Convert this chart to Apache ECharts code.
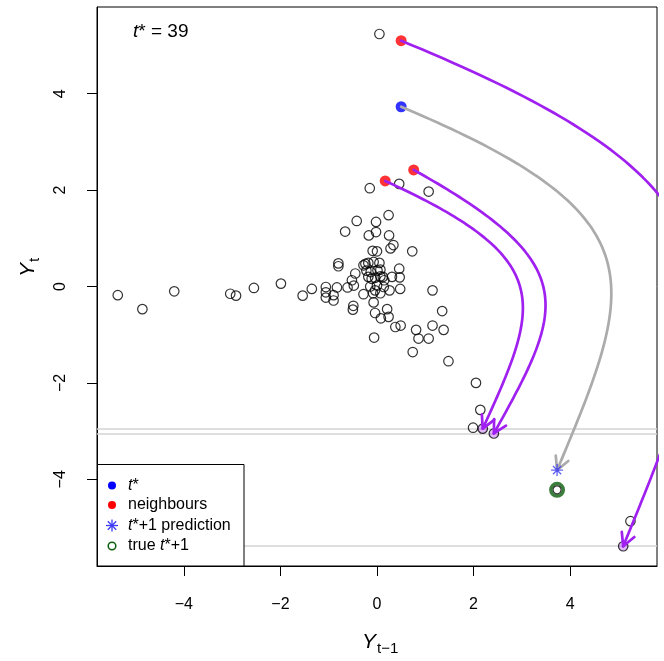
<!DOCTYPE html>
<html><head><meta charset="utf-8">
<script src="https://cdn.jsdelivr.net/npm/echarts@6/dist/echarts.min.js"></script>
<style>html,body{margin:0;padding:0;background:#fff}#c{width:664px;height:661px}</style>
</head><body><div id="c"></div><script>
// ---- data ----
const cloudX = [-5.37,-4.86,-4.20,-3.04,-2.92,-2.55,-1.99,-1.54,-1.35,-1.06,-1.06,-1.06,-0.90,-0.90,-0.83,-0.80,-0.80,-0.61,-0.52,-0.45,-0.48,-0.49,-0.50,-0.66,-0.42,-0.17,-0.02,-0.02,-0.09,0.00,-0.15,-0.28,-0.07,-0.04,0.08,-0.06,-0.28,-0.18,-0.07,0.05,-0.22,-0.13,0.01,-0.18,-0.04,0.07,-0.11,0.00,-0.08,0.07,-0.14,0.14,0.15,0.12,-0.24,-0.04,0.26,0.24,0.25,0.34,0.28,0.73,0.07,0.46,0.31,0.47,0.48,1.15,1.35,0.21,0.24,0.38,0.49,0.81,1.15,1.38,0.86,1.07,0.74,1.48,2.05,2.14,1.99,5.25,0.05,0.46,1.07];
const cloudY = [-0.18,-0.47,-0.10,-0.15,-0.19,-0.03,0.06,-0.19,-0.05,-0.01,-0.12,-0.23,-0.18,-0.29,-0.02,0.48,0.42,-0.02,0.13,0.27,0.02,-0.40,-0.48,1.14,1.36,1.06,1.34,1.13,0.74,0.73,2.04,-0.16,-0.33,-0.55,-0.66,-1.06,0.44,0.49,0.51,0.49,0.33,0.30,0.33,0.20,0.18,0.21,0.16,0.02,-0.14,-0.14,0.00,-0.01,0.13,0.20,0.47,-0.08,-0.08,1.48,1.06,0.86,0.79,0.73,0.35,0.37,0.20,0.19,-0.05,-0.08,-0.51,-0.47,-0.63,-0.84,-0.81,-0.90,-0.81,-0.90,-1.08,-1.08,-1.36,-1.55,-2.00,-2.56,-2.93,-4.87,5.24,2.13,1.97];
const neighbourX = [0.50, 0.17, 0.76];
const neighbourY = [5.10, 2.19, 2.42];
const successorX = [5.10, 2.19, 2.42];
const successorY = [-5.39, -2.95, -3.05];
const tStarX = [0.50];
const tStarY = [3.73];
const predX = [3.73];
const predY = [-3.81];
const trueX = [3.73];
const trueY = [-4.22];
const tickValues = [-4, -2, 0, 2, 4];
const tStarLabel = 39;

// ---- helpers ----
const FONT = '"Liberation Sans", Arial, Helvetica, sans-serif';
const zip = (xs, ys) => xs.map((x, i) => [x, ys[i]]);
const deg = Math.PI / 180;
function curvedArrow(S, E) {
  const dx = E[0] - S[0], dy = E[1] - S[1];
  const L = Math.hypot(dx, dy), phi = Math.atan2(dy, dx);
  const a1 = phi + 44 * deg, a2 = phi - 46 * deg;
  const C1 = [S[0] + 0.71 * L * Math.cos(a1), S[1] + 0.71 * L * Math.sin(a1)];
  const C2 = [E[0] - 0.52 * L * Math.cos(a2), E[1] - 0.52 * L * Math.sin(a2)];
  const pts = [];
  const n = 100;
  for (let i = 0; i <= n; i++) {
    const t = i / n, u = 1 - t;
    const b0 = u * u * u, b1 = 3 * u * u * t, b2 = 3 * u * t * t, b3 = t * t * t;
    pts.push([b0 * S[0] + b1 * C1[0] + b2 * C2[0] + b3 * E[0],
              b0 * S[1] + b1 * C1[1] + b2 * C2[1] + b3 * E[1]]);
  }
  const ang = Math.atan2(E[1] - C2[1], E[0] - C2[0]);
  const len = 0.3, da = 28 * deg;
  const head = [[E[0] - len * Math.cos(ang - da), E[1] - len * Math.sin(ang - da)], E,
                [E[0] - len * Math.cos(ang + da), E[1] - len * Math.sin(ang + da)]];
  return { pts, head };
}
const PURPLE = '#A020F0', GRAY = '#ABABAB';
const arrowSeries = [];
function addArrow(S, E, color) {
  const a = curvedArrow(S, E);
  const ls = { color, width: 2.7, cap: 'round', join: 'round' };
  arrowSeries.push({ type: 'line', data: a.pts, showSymbol: false, symbol: 'none', lineStyle: ls, z: 6, silent: true, clip: true, animation: false });
  arrowSeries.push({ type: 'line', data: a.head, showSymbol: false, symbol: 'none', lineStyle: ls, z: 6, silent: true, clip: true, animation: false });
}
neighbourX.forEach((x, i) => addArrow([x, neighbourY[i]], [successorX[i], successorY[i]], PURPLE));
addArrow([tStarX[0], tStarY[0]], [predX[0], predY[0]], GRAY);

const fmt = v => (v < 0 ? '\u2212' + Math.abs(v) : String(v));
const STAR = 'path://M0 5L10 5M5 0L5 10M1.6 1.6L8.4 8.4M8.4 1.6L1.6 8.4';
const ZT = 100;
const txt = (x, y, text, size, extra) => ({ type: 'text', x, y, z: ZT + 2,
  style: Object.assign({ text, fill: '#000', fontSize: size, fontFamily: FONT, align: 'left', verticalAlign: 'middle',
    textAlign: 'left', textVerticalAlign: 'middle',
    rich: { i: { fontStyle: 'italic', fontSize: size, fontFamily: FONT }, n: { fontSize: size, fontFamily: FONT } } }, extra || {}) });
const seg = (x1, y1, x2, y2) => ({ type: 'line', z: ZT + 1, shape: { x1, y1, x2, y2 }, style: { stroke: '#3A3AF5', lineWidth: 1.3 } });

const option = {
  animation: false,
  backgroundColor: '#fff',
  grid: { left: 97, right: 7, top: 7, bottom: 95, show: true, borderColor: '#000', borderWidth: 1, containLabel: false },
  xAxis: {
    type: 'value', min: -5.8, max: 5.8,
    axisLine: { show: true, onZero: false, lineStyle: { color: '#000', width: 1 } },
    axisTick: { show: true, length: 10, customValues: tickValues, lineStyle: { color: '#000' } },
    axisLabel: { customValues: tickValues, formatter: fmt, color: '#000', fontSize: 16, fontFamily: FONT, margin: 31 },
    splitLine: { show: false }
  },
  yAxis: {
    type: 'value', min: -5.8, max: 5.8,
    axisLine: { show: true, onZero: false, lineStyle: { color: '#000', width: 1 } },
    axisTick: { show: true, length: 10, customValues: tickValues, lineStyle: { color: '#000' } },
    axisLabel: { customValues: tickValues, formatter: fmt, rotate: 90, color: '#000', fontSize: 16, fontFamily: FONT, margin: 28 },
    splitLine: { show: false }
  },
  series: [
    { type: 'scatter', data: [], z: 1, silent: true,
      markLine: { silent: true, symbol: 'none', animation: false, z: 1, label: { show: false },
        lineStyle: { color: '#D3D3D3', width: 1.5, type: 'solid' },
        data: successorY.map(v => ({ yAxis: v })) } },
    { type: 'scatter', data: zip(cloudX, cloudY), symbol: 'circle', symbolSize: 9.5, z: 2,
      itemStyle: { color: 'rgba(0,0,0,0)', borderColor: '#000', borderWidth: 1.2 } },
    { type: 'scatter', data: zip(successorX, successorY), symbol: 'circle', symbolSize: 9.5, z: 3,
      itemStyle: { color: 'rgba(160,32,240,0.4)', borderColor: '#000', borderWidth: 1.2 } },
    { type: 'scatter', data: zip(neighbourX, neighbourY), symbol: 'circle', symbolSize: 11, z: 4,
      itemStyle: { color: '#FF0000' } },
    { type: 'scatter', data: zip(tStarX, tStarY), symbol: 'circle', symbolSize: 11, z: 4,
      itemStyle: { color: '#0000FF' } },
    ...arrowSeries,
    { type: 'scatter', data: zip(trueX, trueY), symbol: 'circle', symbolSize: 12.5, z: 7,
      itemStyle: { color: 'rgba(0,0,0,0)', borderColor: '#0B5E0B', borderWidth: 3.5 } },
    { type: 'scatter', data: zip(trueX, trueY), symbol: 'circle', symbolSize: 8, z: 8,
      itemStyle: { color: 'rgba(0,0,0,0)', borderColor: '#000', borderWidth: 1.2 } },
    { type: 'scatter', data: zip(predX, predY), symbol: STAR, symbolSize: 12, z: 8,
      itemStyle: { color: 'rgba(0,0,0,0)', borderColor: '#3A3AF5', borderWidth: 1.3 } }
  ],
  graphic: { elements: [
    txt(133, 32, '{i|t}{n|*} = ' + tStarLabel, 19),
    txt(362, 642, 'Y', 21, { fontStyle: 'italic' }),
    txt(377, 649, 't\u22121', 15),
    { type: 'group', x: 28, y: 277, rotation: Math.PI / 2, z: ZT,
      children: [ txt(0, 0, 'Y', 21, { fontStyle: 'italic' }), txt(15, 7, 't', 15) ] },
    { type: 'rect', z: ZT, shape: { x: 97.5, y: 464.5, width: 146.5, height: 101.5 }, style: { fill: '#fff', stroke: '#000', lineWidth: 1 } },
    { type: 'circle', z: ZT + 1, shape: { cx: 112, cy: 485.5, r: 4 }, style: { fill: '#0000FF' } },
    { type: 'circle', z: ZT + 1, shape: { cx: 112, cy: 505, r: 4 }, style: { fill: '#FF0000' } },
    seg(106, 525.5, 118, 525.5), seg(112, 519.5, 112, 531.5), seg(107.8, 521.3, 116.2, 529.7), seg(116.2, 521.3, 107.8, 529.7),
    { type: 'circle', z: ZT + 1, shape: { cx: 112, cy: 546, r: 3.8 }, style: { fill: 'none', stroke: '#0B5E0B', lineWidth: 1.5 } },
    txt(128, 485.5, '{i|t}{n|*}', 16),
    txt(128, 505, 'neighbours', 16),
    txt(128, 525.5, '{i|t}{n|*+1 prediction}', 16),
    txt(128, 546, '{n|true }{i|t}{n|*+1}', 16)
  ] }
};
const chart = echarts.init(document.getElementById('c'), null, { renderer: 'canvas', width: 664, height: 661 });
chart.setOption(option);
</script></body></html>
